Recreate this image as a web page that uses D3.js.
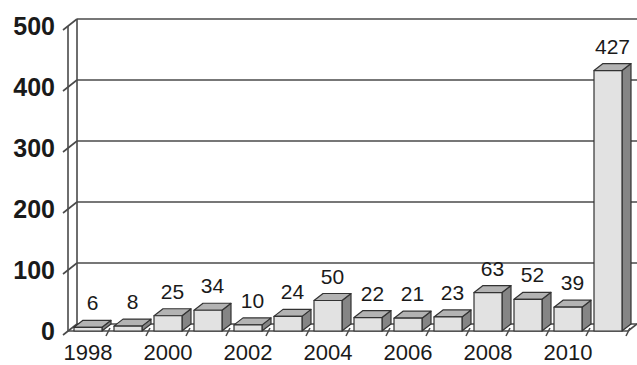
<!DOCTYPE html>
<html>
<head>
<meta charset="utf-8">
<script src="https://cdn.jsdelivr.net/npm/d3@7"></script>
<style>
  body { margin: 0; background: #fff; }
  svg { display: block; }
</style>
</head>
<body>
<svg id="chart" width="637" height="365"></svg>
<script>
var years = ["1998", "1999", "2000", "2001", "2002", "2003", "2004",
             "2005", "2006", "2007", "2008", "2009", "2010", "2011"];
var counts = [6, 8, 25, 34, 10, 24, 50, 22, 21, 23, 63, 52, 39, 427];
var yTicks = [0, 100, 200, 300, 400, 500];
var xLabels = ["1998", "2000", "2002", "2004", "2006", "2008", "2010"];

(function() {
  var svg = d3.select("#chart");
  var depthX = 9, depthY = -7;   // 3d offset of the back wall
  var lineColor = "#4a4a4a";

  var x = d3.scaleBand()
    .domain(years)
    .range([68, 628])
    .paddingInner(0.3)
    .paddingOuter(0.15);

  var xCat = d3.scaleBand()
    .domain(years)
    .range([68, 628]);

  var y = d3.scaleLinear()
    .domain([0, 500])
    .range([331, 26]);

  var walls = svg.append("g")
    .attr("fill", "none")
    .attr("stroke", lineColor)
    .attr("stroke-width", 1.6);

  // gridlines on back wall + left wall
  yTicks.forEach(function(t) {
    var yy = y(t);
    walls.append("line")
      .attr("x1", 68 + depthX).attr("y1", yy + depthY)
      .attr("x2", 637).attr("y2", yy + depthY);
    walls.append("line")
      .attr("x1", 63).attr("y1", yy + 4)
      .attr("x2", 68 + depthX).attr("y2", yy + depthY);
  });

  // left wall verticals
  walls.append("line")
    .attr("x1", 68).attr("y1", y(500))
    .attr("x2", 68).attr("y2", y(0));
  walls.append("line")
    .attr("x1", 68 + depthX).attr("y1", y(500) + depthY)
    .attr("x2", 68 + depthX).attr("y2", y(0) + depthY);

  // floor front edge
  walls.append("line")
    .attr("x1", 68).attr("y1", y(0))
    .attr("x2", 628).attr("y2", y(0));
  walls.append("line")
    .attr("x1", 628).attr("y1", y(0))
    .attr("x2", 628 + depthX).attr("y2", y(0) + depthY);

  // category ticks on floor
  years.forEach(function(d) {
    var xx = xCat(d) + xCat.bandwidth();
    walls.append("line")
      .attr("x1", xx - 2).attr("y1", y(0) + 5)
      .attr("x2", xx + 2).attr("y2", y(0) - 3);
  });

  // y labels
  svg.append("g")
    .selectAll("text")
    .data(yTicks)
    .enter().append("text")
      .attr("x", 55)
      .attr("y", function(d) { return y(d); })
      .attr("dy", "0.36em")
      .attr("text-anchor", "end")
      .style("font-family", "'Liberation Sans', Arial, sans-serif")
      .style("font-size", "25px")
      .style("font-weight", "bold")
      .style("fill", "#1a1a1a")
      .text(function(d) { return d; });

  // x labels
  svg.append("g")
    .selectAll("text")
    .data(xLabels)
    .enter().append("text")
      .attr("x", function(d) { return xCat(d) + xCat.bandwidth() / 2; })
      .attr("y", 360)
      .attr("text-anchor", "middle")
      .style("font-family", "'Liberation Sans', Arial, sans-serif")
      .style("font-size", "22px")
      .style("fill", "#1a1a1a")
      .text(function(d) { return d; });

  // bars
  var data = years.map(function(d, i) { return { year: d, value: counts[i] }; });

  var bars = svg.append("g")
    .selectAll(".bar")
    .data(data)
    .enter().append("g")
      .attr("class", "bar")
      .attr("stroke", "#333")
      .attr("stroke-width", 1.2)
      .attr("stroke-linejoin", "round");

  bars.append("path")  // side
    .attr("fill", "#858585")
    .attr("d", function(d) {
      var x1 = x(d.year) + x.bandwidth(), y0 = y(0), y1 = y(d.value);
      return "M" + x1 + "," + y0 + "L" + (x1 + depthX) + "," + (y0 + depthY) +
        "L" + (x1 + depthX) + "," + (y1 + depthY) + "L" + x1 + "," + y1 + "Z";
    });

  bars.append("path")  // top
    .attr("fill", "#b3b3b3")
    .attr("d", function(d) {
      var x0 = x(d.year), x1 = x0 + x.bandwidth(), y1 = y(d.value);
      return "M" + x0 + "," + y1 + "L" + x1 + "," + y1 +
        "L" + (x1 + depthX) + "," + (y1 + depthY) + "L" + (x0 + depthX) + "," + (y1 + depthY) + "Z";
    });

  bars.append("rect")  // front
    .attr("fill", "#e2e2e2")
    .attr("x", function(d) { return x(d.year); })
    .attr("y", function(d) { return y(d.value); })
    .attr("width", x.bandwidth())
    .attr("height", function(d) { return y(0) - y(d.value); });

  // value labels
  svg.append("g")
    .selectAll("text")
    .data(data)
    .enter().append("text")
      .attr("x", function(d) { return x(d.year) + x.bandwidth() / 2 + depthX / 2; })
      .attr("y", function(d) { return y(d.value) + depthY - 10; })
      .attr("text-anchor", "middle")
      .style("font-family", "'Liberation Sans', Arial, sans-serif")
      .style("font-size", "21px")
      .style("fill", "#1a1a1a")
      .text(function(d) { return d.value; });
})();
</script>
</body>
</html>
